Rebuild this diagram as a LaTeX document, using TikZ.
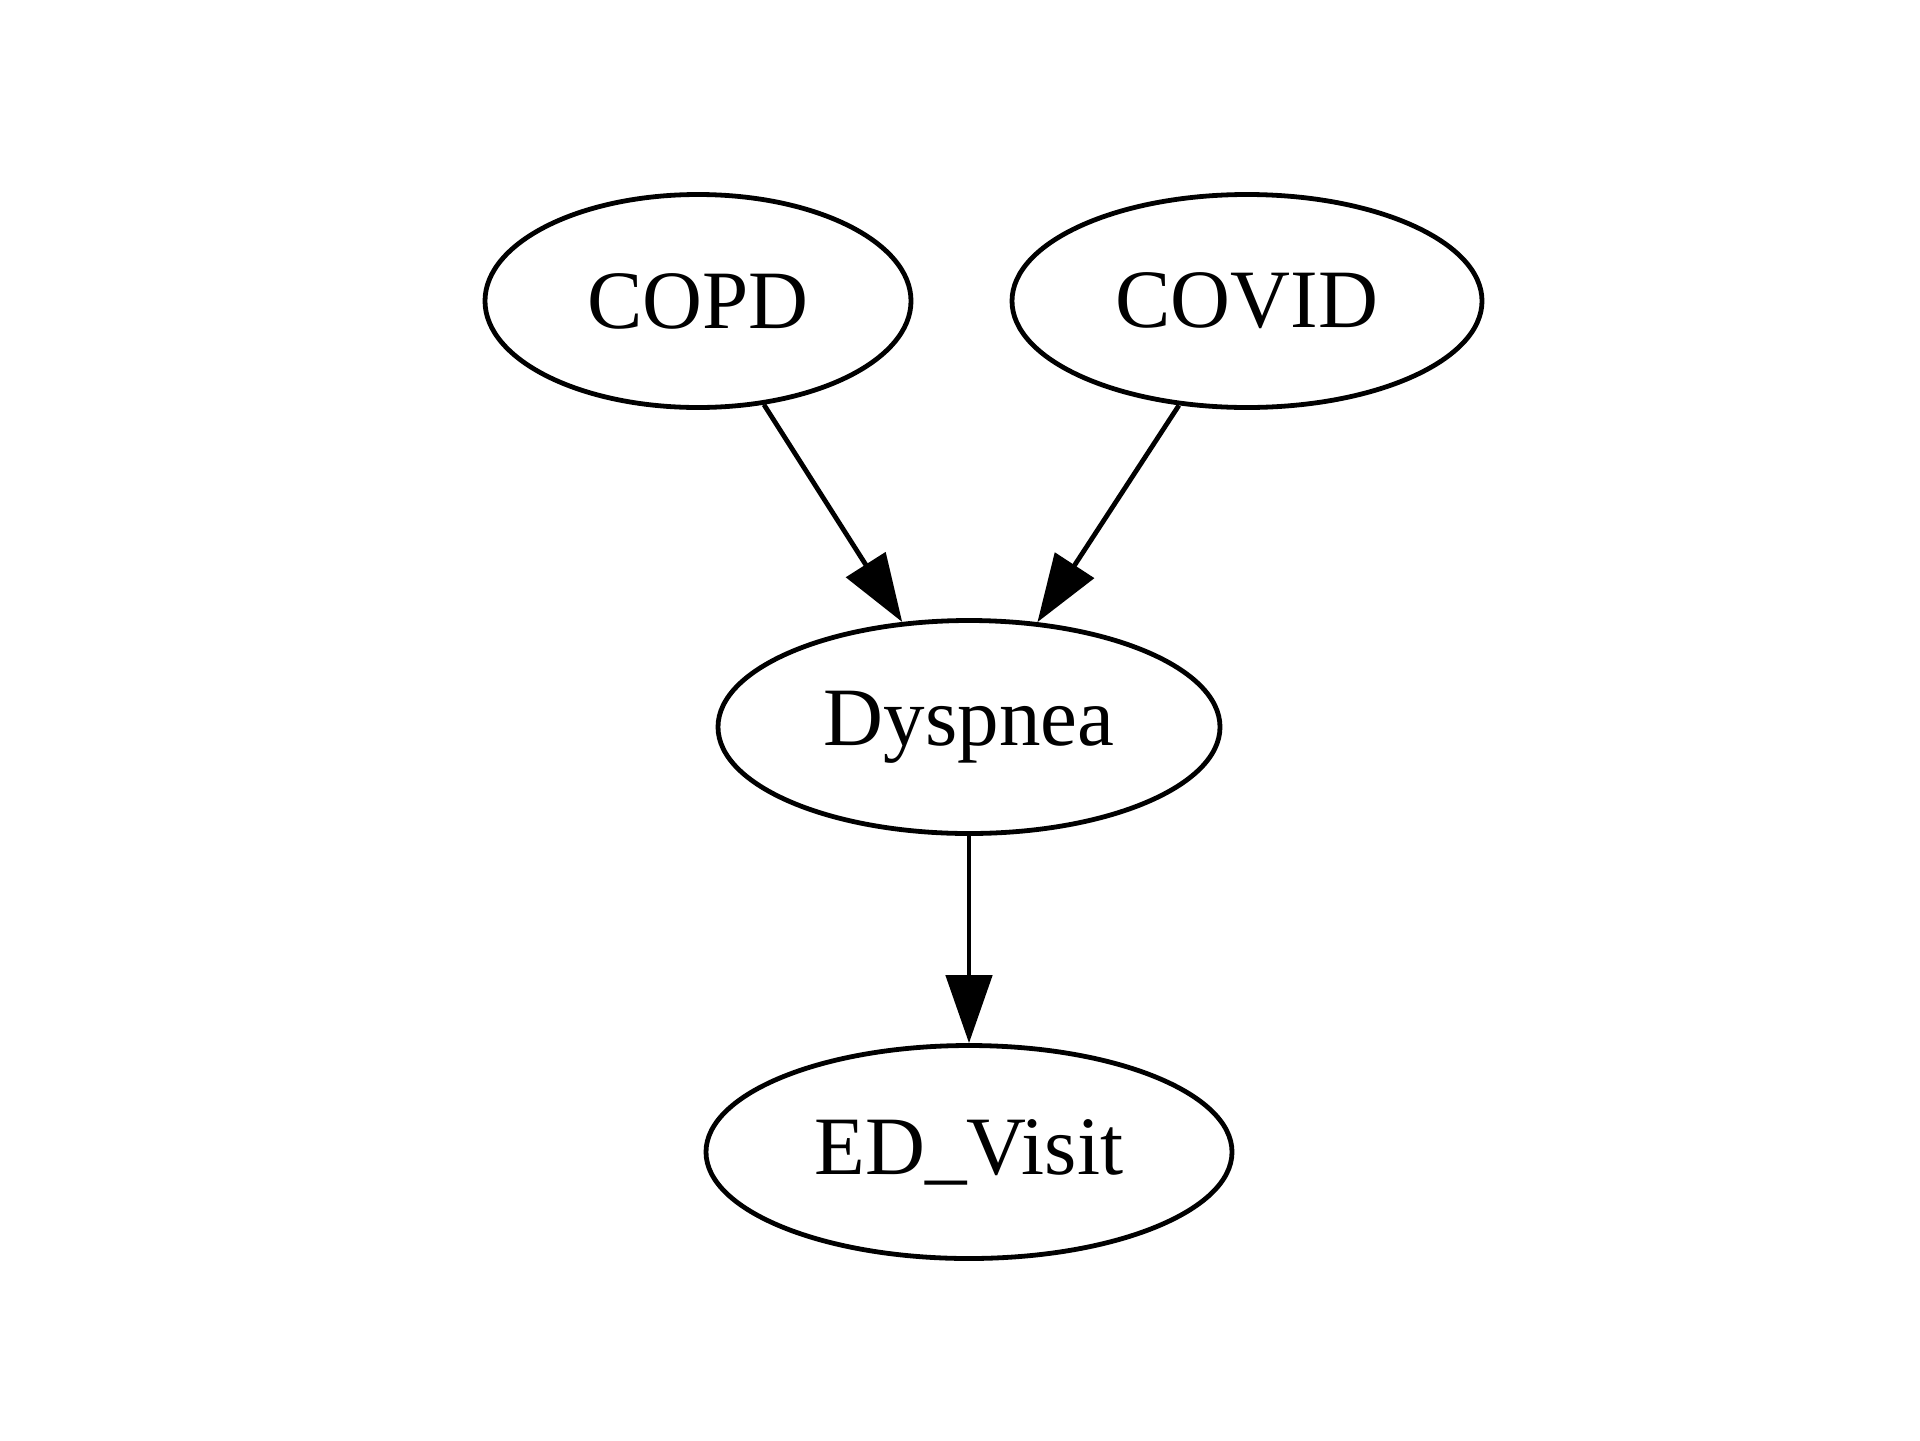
\documentclass[tikz,border=0pt]{standalone}
\usepackage{fontspec}
\setmainfont{Liberation Serif}
\usetikzlibrary{shapes.geometric,arrows.meta}
\begin{document}
\begin{tikzpicture}[x=0.5pt,y=-0.5pt,
  nd/.style={ellipse,draw,line width=2.4pt,inner sep=0pt,minimum height=106.5pt,font=\fontsize{41.5}{48}\selectfont},
  edge/.style={line width=2.4pt,-{Triangle[length=34pt,width=23pt]}}]
\useasboundingbox[fill=white] (0,0) rectangle (1920,1440);
\node[nd,minimum width=213pt] (copd) at (698,301) {COPD};
\node[nd,minimum width=235pt] (covid) at (1247,301) {COVID};
\node[nd,minimum width=251pt] (dysp) at (969,727) {Dyspnea};
\node[nd,minimum width=263pt] (ed) at (969,1152) {ED\_Visit};
\draw[edge] (copd) -- (dysp);
\draw[edge] (covid) -- (dysp);
\draw[edge] (dysp) -- (ed);
\end{tikzpicture}
\end{document}
